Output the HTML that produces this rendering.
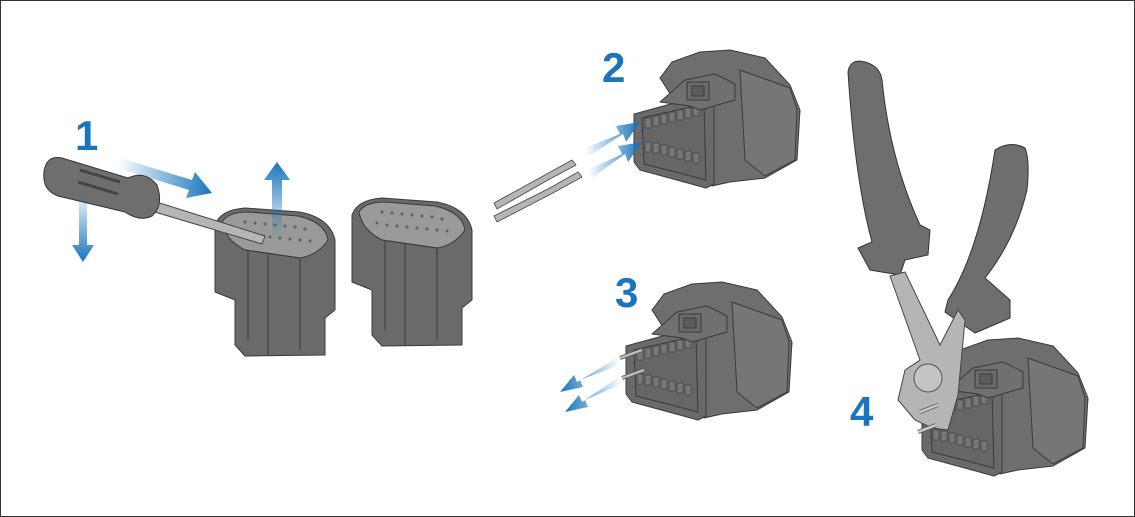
<!DOCTYPE html>
<html><head><style>
html,body{margin:0;padding:0;background:#fff}
svg{display:block}
text{font-family:"Liberation Sans",sans-serif;font-weight:bold;fill:#1a75bc}
</style></head><body>
<svg width="1135" height="517" viewBox="0 0 1135 517" xmlns="http://www.w3.org/2000/svg">
<defs>
<linearGradient id="gR" x1="0" y1="0" x2="1" y2="0"><stop offset="0" stop-color="#1a75bc" stop-opacity="0"/><stop offset="1" stop-color="#1a75bc"/></linearGradient>
<linearGradient id="gL" x1="1" y1="0" x2="0" y2="0"><stop offset="0" stop-color="#1a75bc" stop-opacity="0"/><stop offset="1" stop-color="#1a75bc"/></linearGradient>
<linearGradient id="gU" x1="0" y1="1" x2="0" y2="0"><stop offset="0" stop-color="#1a75bc" stop-opacity="0"/><stop offset="1" stop-color="#1a75bc"/></linearGradient>
<linearGradient id="gD" x1="0" y1="0" x2="0" y2="1"><stop offset="0" stop-color="#1a75bc" stop-opacity="0"/><stop offset="1" stop-color="#1a75bc"/></linearGradient>
<g id="side" stroke="#3a3a3a" stroke-width="1" stroke-linejoin="round">
  <path d="M660 78 L672 62 L700 52 L730 50 L765 58 L790 85 L800 110 L797 160 L765 178 L730 182 L712 186 L700 140 Z" fill="#6e6e6e"/>
  <path d="M740 70 L790 88 L797 110 L795 160 L765 176 L745 160 Z" fill="#767676"/>
  <path d="M634 114 L700 96 L714 104 L714 184 L706 188 L640 170 L634 162 Z" fill="#6a6a6a"/>
  <path d="M642 118 L704 104 L706 180 L644 164 Z" fill="#666"/>
  <g fill="#777" stroke="#444" stroke-width="0.7">
    <rect x="645" y="118" width="6" height="10"/><rect x="653" y="116" width="6" height="10"/><rect x="661" y="114" width="6" height="10"/><rect x="669" y="112" width="6" height="10"/><rect x="677" y="110" width="6" height="10"/><rect x="685" y="108" width="6" height="10"/><rect x="693" y="106" width="6" height="10"/>
    <rect x="645" y="142" width="6" height="10"/><rect x="653" y="143" width="6" height="10"/><rect x="661" y="145" width="6" height="10"/><rect x="669" y="147" width="6" height="10"/><rect x="677" y="149" width="6" height="10"/><rect x="685" y="151" width="6" height="10"/><rect x="693" y="153" width="6" height="10"/>
  </g>
  <path d="M660 102 L685 80 L715 74 L735 84 L735 100 L700 110 L690 106 Z" fill="#707070"/>
  <rect x="687" y="82" width="22" height="18" fill="#6a6a6a"/>
  <path d="M692 86 L704 86 L704 96 L692 96 Z" fill="#5c5c5c"/>
</g>
<g id="up" stroke="#3a3a3a" stroke-width="1" stroke-linejoin="round">
  <path d="M215 225 Q220 210 245 208 L300 212 Q330 218 335 240 L335 310 L325 318 L325 355 L245 356 L235 345 L235 300 L215 292 Z" fill="#6a6a6a"/>
  <path d="M222 222 Q228 212 248 212 L298 216 Q325 222 328 240 Q318 255 300 258 L245 250 Q225 240 222 222 Z" fill="#9a9a9a"/>
  <path d="M245 250 L300 258 L300 350" fill="none"/>
  <path d="M268 254 L268 355 M248 250 L248 340" fill="none"/>
  <g fill="#666" stroke="none">
    <circle cx="245" cy="222" r="1.6"/><circle cx="255" cy="223" r="1.6"/><circle cx="265" cy="224" r="1.6"/><circle cx="275" cy="225" r="1.6"/><circle cx="285" cy="226" r="1.6"/><circle cx="295" cy="227" r="1.6"/><circle cx="305" cy="229" r="1.6"/>
    <circle cx="240" cy="233" r="1.6"/><circle cx="250" cy="235" r="1.6"/><circle cx="260" cy="236" r="1.6"/><circle cx="270" cy="237" r="1.6"/><circle cx="280" cy="238" r="1.6"/><circle cx="290" cy="239" r="1.6"/><circle cx="300" cy="240" r="1.6"/><circle cx="310" cy="241" r="1.6"/>
  </g>
</g>
</defs>
<rect x="0.5" y="0.5" width="1134" height="516" fill="#fff" stroke="#333"/>

<use href="#up"/>
<use href="#up" transform="translate(137,-10)"/>

<!-- screwdriver -->
<path d="M150 200 L265 236 L262 244 L148 210 Z" fill="#b5b5b5" stroke="#444"/>
<path d="M44 172 Q46 155 62 158 L128 178 Q145 170 157 185 Q164 205 152 216 Q140 222 125 212 L58 196 Q42 190 44 172 Z" fill="#6e6e6e" stroke="#333"/>
<path d="M80 170 L120 182 M78 182 L118 194" stroke="#444" stroke-width="3" fill="none"/>

<!-- arrows -->
<path d="M120 158 L192 180 L195 172 L212 193 L186 198 L189 190 L117 168 Z" fill="url(#gR)"/>
<path d="M79 190 L87 190 L87 245 L94 245 L83 262 L72 245 L79 245 Z" fill="url(#gD)"/>
<path d="M272 240 L282 240 L282 180 L290 180 L277 162 L264 180 L272 180 Z" fill="url(#gU)"/>

<text x="75" y="150" font-size="42">1</text>
<text x="602" y="82" font-size="42">2</text>
<text x="615" y="307" font-size="42">3</text>
<text x="850" y="426" font-size="42">4</text>

<use href="#side"/>
<use href="#side" transform="translate(-8,232)"/>

<!-- pins 2 -->
<path d="M494 203 L545 175 L572 160 L576 165 L548 180 L497 209 Z" fill="#b5b5b5" stroke="#444" stroke-width="0.8"/>
<path d="M494 216 L548 189 L578 172 L582 177 L551 194 L497 222 Z" fill="#b5b5b5" stroke="#444" stroke-width="0.8"/>
<path d="M585 148 L620 134 L616 126 L640 122 L626 142 L623 134 L589 156 Z" fill="url(#gR)"/>
<path d="M588 170 L622 154 L618 146 L642 142 L628 162 L625 154 L592 178 Z" fill="url(#gR)"/>
<!-- pins 3 -->
<path d="M620 358 L642 350 M622 378 L644 370" stroke="#555" stroke-width="4"/>
<path d="M620 358 L642 350 M622 378 L644 370" stroke="#bbb" stroke-width="2.5"/>
<path d="M620 365 L580 380 L583 387 L560 392 L574 375 L577 382 L617 358 Z" fill="url(#gL)"/>
<path d="M622 384 L585 400 L588 407 L565 412 L579 395 L582 402 L619 377 Z" fill="url(#gL)"/>

<use href="#side" transform="translate(288,288)"/>

<!-- pliers -->
<path d="M848 72 Q850 58 865 62 Q880 66 882 80 Q890 160 920 225 L930 230 L928 255 L905 260 L900 275 L870 270 L858 248 L872 242 Q855 180 848 72 Z" fill="#6e6e6e" stroke="#333"/>
<path d="M995 150 Q1010 140 1025 148 Q1030 160 1027 190 Q1015 240 985 278 L1010 300 L1010 318 L975 333 L945 312 L948 300 Q980 250 995 150 Z" fill="#6e6e6e" stroke="#333"/>
<path d="M890 276 L905 272 L940 345 L958 310 L965 320 L958 395 L948 430 L932 428 L915 420 L898 400 L905 370 L920 360 Z" fill="#b5b5b5" stroke="#444"/>
<ellipse cx="928" cy="378" rx="14" ry="14" fill="#c4c4c4" stroke="#555"/>
<path d="M920 412 L938 405 M918 432 L936 425" stroke="#555" stroke-width="4"/>
<path d="M920 412 L938 405 M918 432 L936 425" stroke="#ccc" stroke-width="2.5"/>
</svg>
</body></html>
